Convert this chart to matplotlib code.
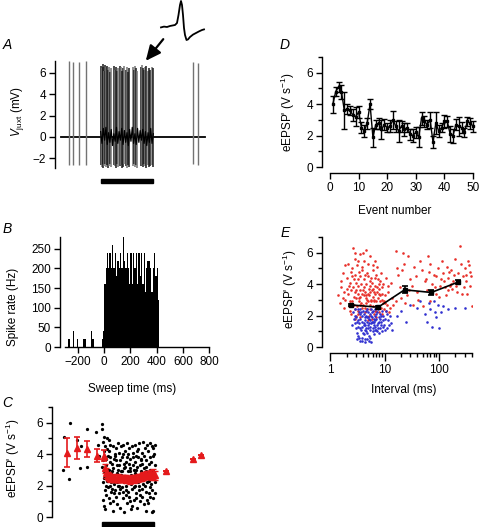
"""Juxtacellular burst figure: trace, PSTH, eEPSP' vs time, event number and interval"""

import numpy as np
import matplotlib.pyplot as plt
from matplotlib.patches import FancyArrowPatch, Rectangle
from matplotlib.ticker import FixedLocator, NullFormatter

plt.rcParams['font.family'] = ['Liberation Sans', 'DejaVu Sans']
plt.rcParams['mathtext.fontset'] = 'custom'
plt.rcParams['mathtext.rm'] = 'Liberation Sans'
plt.rcParams['mathtext.it'] = 'Liberation Sans:italic'
plt.rcParams['font.size'] = 8.5
plt.rcParams['axes.linewidth'] = 1.0

# ---------------- data ----------------
stim_on, stim_off = 0, 400  # ms, stimulus bar

# A: juxtacellular trace (ms, mV)
base_t = [-300, 790]
base_v = [0.0, 0.0]
single_t = [-241, -213, -165, -112, 702, 742]
single_pk = [7.1, 7.0, 7.0, 7.1, 7.0, 6.9]
single_tr = [-2.6, -2.6, -2.6, -2.6, -2.5, -2.6]
burst_t = [2, 8, 14, 21, 28, 34, 41, 50, 57, 64, 72, 80, 99, 106, 113, 121, 128,
           150, 158, 165, 173, 181, 190, 198, 206, 214, 246, 254, 262, 270, 278,
           303, 311, 319, 328, 337, 346, 356, 366, 377, 388, 398]
burst_pk = [6.6, 6.4, 6.8, 6.5, 6.2, 6.7, 6.5, 6.6, 6.3, 6.5, 6.1, 6.4, 6.6, 6.3,
            6.5, 6.2, 6.4, 6.6, 6.5, 6.2, 6.4, 6.6, 6.3, 6.5, 6.1, 6.4, 6.5, 6.3,
            6.6, 6.4, 6.2, 6.5, 6.7, 6.4, 6.3, 6.5, 6.6, 6.2, 6.4, 6.3, 6.5, 6.4]
burst_tr = [-2.6, -2.8, -2.5, -2.9, -2.7, -2.5, -2.8, -2.6, -3.0, -2.7, -2.5, -2.8,
            -2.6, -2.7, -2.9, -2.5, -2.8, -2.7, -2.6, -3.0, -2.8, -2.5, -2.7, -2.9,
            -2.6, -2.8, -2.7, -2.5, -2.8, -2.6, -2.9, -2.7, -2.6, -2.8, -2.5, -2.7,
            -2.9, -2.6, -2.8, -2.7, -2.6, -2.8]
burst_gray = ['0.1', '0.45', '0.1', '0.1', '0.45', '0.1', '0.45', '0.1', '0.1', '0.45',
              '0.1', '0.45', '0.1', '0.45', '0.1', '0.1', '0.45', '0.1', '0.45', '0.1',
              '0.1', '0.45', '0.1', '0.45', '0.1', '0.1', '0.45', '0.1', '0.45', '0.1',
              '0.45', '0.1', '0.45', '0.1', '0.1', '0.45', '0.1', '0.45', '0.1', '0.1',
              '0.45', '0.1']
burst_noise_v = [0.5, -0.6, 0.8, -0.3, 0.9, -0.7, 0.4, -0.5, 0.7, -0.8, 0.3, -0.4,
                 0.9, -0.6, 0.5, -0.3, 0.8, -0.7, 0.6, -0.5, 0.4, -0.8, 0.7, -0.4,
                 0.9, -0.6, 0.3, -0.7, 0.8, -0.5, 0.6, -0.3, 0.7, -0.6, 0.5, -0.8,
                 0.4, -0.5, 0.8, -0.6, 0.3]

# spike waveform inset (ms, mV)
wave_t = [0.0, 0.3, 0.6, 0.9, 1.2, 1.4, 1.6, 1.75, 1.9, 2.0, 2.1, 2.2, 2.3, 2.4,
          2.55, 2.7, 2.9, 3.2, 3.5, 3.8, 4.1, 4.3]
wave_v = [-0.1, 0.1, 0.0, 0.25, 0.4, 0.5, 1.0, 3.0, 5.5, 6.5, 5.5, 3.0, -0.25, -2.0,
          -3.25, -3.1, -2.5, -1.9, -1.5, -1.1, -0.75, -0.6]

# B: spike rate histogram (10 ms bins)
bin_width = 10
pre_bins = [-280, -270, -240, -210, -160, -150, -100, -90, -20, -10]
pre_rate = [20, 20, 40, 20, 20, 20, 40, 20, 20, 40]
burst_rate = [160, 200, 240, 200, 240, 200, 260, 200, 240, 180, 220, 200, 240, 200,
              280, 220, 200, 240, 200, 160, 240, 160, 240, 200, 240, 160, 240, 180,
              240, 160, 240, 140, 200, 220, 220, 200, 140, 200, 240, 180, 200, 120]

# C: single eEPSP' values vs sweep time (ms, V/s)
c_dots = [(-294, 3.0), (-286, 5.1), (-248, 2.4), (-242, 6.0), (-187, 4.9), (-166, 3.1),
          (-158, 4.5), (-110, 5.6), (-110, 3.2), (-40, 5.4), (-30, 4.6), (-20, 3.9),
          (2, 5.9), (5, 5.6), (8, 4.8), (12, 3.6), (15, 2.9), (18, 4.2), (22, 1.7), (3, 3.2),
          (10, 2.2), (20, 5.1), (7, 1.1), (24, 3.8), (14, 0.7), (17, 2.5),
          (27, 4.5), (30, 2.0), (33, 3.3), (36, 1.4), (39, 5.0), (42, 2.7), (45, 3.9),
          (48, 1.9), (29, 0.5), (38, 2.3), (44, 4.3), (47, 3.0), (31, 3.7),
          (52, 2.4), (55, 4.2), (58, 1.2), (61, 3.5), (64, 2.0), (67, 4.6), (70, 2.8),
          (73, 1.6), (54, 3.0), (60, 0.9), (66, 3.8), (72, 2.2), (57, 4.9),
          (77, 3.4), (80, 1.8), (83, 4.5), (86, 2.6), (89, 1.0), (92, 3.7), (95, 2.1),
          (98, 4.0), (79, 2.9), (85, 0.4), (90, 3.1), (96, 1.5),
          (102, 2.5), (105, 3.9), (108, 1.3), (111, 4.4), (114, 2.8), (117, 0.8),
          (120, 3.3), (123, 2.0), (104, 1.7), (110, 3.6), (116, 2.2), (122, 4.7),
          (127, 3.0), (130, 1.5), (133, 4.1), (136, 2.3), (139, 3.6), (142, 0.6),
          (145, 2.7), (148, 4.5), (129, 2.0), (135, 3.3), (141, 1.8), (147, 2.9),
          (152, 1.9), (155, 3.8), (158, 2.5), (161, 4.6), (164, 1.2), (167, 3.1),
          (170, 2.2), (173, 0.3), (154, 2.9), (160, 1.6), (166, 4.0), (172, 3.4),
          (177, 2.6), (180, 4.2), (183, 1.4), (186, 3.5), (189, 2.0), (192, 4.7),
          (195, 0.9), (198, 2.9), (179, 3.2), (185, 1.7), (191, 2.5), (197, 3.8),
          (202, 1.6), (205, 3.4), (208, 2.4), (211, 4.4), (214, 1.0), (217, 2.9),
          (220, 3.7), (223, 2.1), (204, 4.0), (210, 1.3), (216, 3.1), (222, 0.5),
          (227, 2.7), (230, 4.5), (233, 1.8), (236, 3.3), (239, 2.3), (242, 4.1),
          (245, 1.1), (248, 3.0), (229, 0.7), (235, 2.5), (241, 3.8), (247, 1.9),
          (252, 3.5), (255, 2.0), (258, 4.6), (261, 1.5), (264, 3.0), (267, 2.4),
          (270, 4.2), (273, 0.6), (254, 2.8), (260, 3.9), (266, 1.2), (272, 3.2),
          (277, 2.2), (280, 3.8), (283, 1.7), (286, 4.7), (289, 2.6), (292, 3.3),
          (295, 1.0), (298, 2.9), (279, 4.3), (285, 2.0), (291, 1.4), (297, 3.6),
          (302, 2.5), (305, 4.1), (308, 1.3), (311, 3.4), (314, 2.1), (317, 4.8),
          (320, 2.8), (323, 0.8), (304, 3.7), (310, 1.8), (316, 2.4), (322, 3.1),
          (327, 3.9), (330, 2.0), (333, 4.4), (336, 1.6), (339, 2.9), (342, 3.6),
          (345, 1.1), (348, 4.6), (329, 2.6), (335, 3.2), (341, 0.4), (347, 2.2),
          (352, 2.7), (355, 4.2), (358, 1.5), (361, 3.4), (364, 2.3), (367, 4.7),
          (370, 1.9), (373, 3.0), (354, 0.9), (360, 2.5), (366, 3.8), (372, 1.3),
          (377, 3.5), (380, 2.1), (383, 4.5), (386, 1.7), (389, 2.9), (392, 3.9),
          (395, 1.2), (398, 2.6), (401, 4.0), (404, 1.5), (407, 3.3), (410, 2.2),
          (384, 0.3), (396, 0.4), (405, 4.6), (390, 4.4)]

c_mean_t = [-268, -191, -110, -34, 18, 495, 696, 757]
c_mean_v = [4.1, 4.38, 4.32, 3.89, 3.89, 2.95, 3.72, 3.96]
c_mean_e = [0.9, 0.7, 0.5, 0.42, 0.35, 0.0, 0.0, 0.0]
c_burst_t = [25, 35, 45, 55, 65, 75, 85, 95, 105, 115, 125, 135, 145, 155, 165, 175,
             185, 195, 205, 215, 225, 235, 245, 255, 265, 275, 285, 295, 305, 315,
             325, 335, 345, 355, 365, 375, 385, 395, 405]
c_burst_v = [3.1, 2.8, 2.6, 2.55, 2.5, 2.5, 2.45, 2.5, 2.5, 2.45, 2.5, 2.45, 2.4,
             2.45, 2.5, 2.45, 2.4, 2.4, 2.35, 2.35, 2.4, 2.45, 2.4, 2.5, 2.45, 2.5,
             2.55, 2.5, 2.55, 2.6, 2.6, 2.65, 2.6, 2.7, 2.65, 2.7, 2.6, 2.75, 2.65]
c_burst_e = [0.3, 0.3, 0.25, 0.25, 0.25, 0.2, 0.2, 0.25, 0.2, 0.2, 0.25, 0.2, 0.2,
             0.25, 0.2, 0.2, 0.25, 0.2, 0.2, 0.25, 0.2, 0.2, 0.25, 0.2, 0.2, 0.25,
             0.2, 0.2, 0.25, 0.25, 0.2, 0.25, 0.2, 0.25, 0.25, 0.3, 0.25, 0.3, 0.3]

# D: eEPSP' vs event number
event_n = list(range(1, 51))
event_v = [4.0, 4.8, 5.1, 4.8, 3.6, 3.7, 3.6, 3.3, 3.2, 3.5, 2.5, 2.3, 2.8, 4.0, 1.9,
           2.7, 2.8, 2.4, 2.7, 2.5, 2.6, 3.0, 2.6, 2.3, 2.6, 2.4, 2.5, 2.1, 2.0, 2.2,
           1.9, 3.1, 2.9, 2.7, 3.0, 1.6, 2.8, 2.3, 2.5, 2.9, 2.9, 2.1, 2.0, 2.7, 2.6,
           2.5, 2.2, 2.9, 2.8, 2.6]
event_e = [0.55, 0.3, 0.3, 0.45, 1.2, 0.3, 0.3, 0.4, 0.6, 0.4, 0.35, 0.4, 0.35, 0.3,
           0.6, 0.3, 0.35, 0.6, 0.35, 0.3, 0.4, 0.55, 0.35, 0.7, 0.35, 0.4, 0.3, 0.35,
           0.4, 0.35, 0.65, 0.4, 0.35, 0.3, 0.5, 0.4, 0.7, 0.4, 0.3, 0.4, 0.35, 0.5,
           0.45, 0.35, 0.6, 0.35, 0.3, 0.3, 0.35, 0.35]

# E: eEPSP' vs preceding interval (ms, V/s); red = large, blue = small
red_pts = [(2.1, 3.4), (2.3, 4.1), (2.5, 2.9), (2.6, 3.8), (2.8, 4.6), (3.0, 3.1), (3.1, 2.6),
           (3.3, 4.3), (3.5, 3.6), (3.7, 2.8), (3.9, 4.9), (4.1, 3.3), (4.3, 2.5), (4.6, 4.0),
           (4.8, 3.0), (5.1, 3.7), (5.4, 2.7), (5.7, 4.4), (6.0, 3.2), (6.4, 2.9), (6.8, 3.9),
           (7.2, 3.5), (7.7, 2.6), (8.2, 4.2), (8.8, 3.0), (9.4, 2.8),
           (2.2, 2.6), (2.4, 3.6), (2.7, 3.2), (2.9, 2.4), (3.2, 3.9), (3.4, 2.9), (3.6, 4.5),
           (3.8, 3.4), (4.0, 2.7), (4.2, 3.8), (4.5, 3.1), (4.7, 4.7), (5.0, 2.9), (5.3, 3.5),
           (5.6, 3.0), (5.9, 4.1), (6.2, 2.6), (6.6, 3.4), (7.0, 4.6), (7.5, 3.1), (8.0, 3.7),
           (8.5, 2.5), (9.1, 3.4), (9.8, 2.9),
           (1.9, 3.0), (2.0, 4.4), (2.3, 2.3), (2.5, 5.0), (2.7, 4.3), (3.0, 3.6), (3.2, 2.3),
           (3.4, 4.8), (3.6, 3.2), (3.9, 2.5), (4.1, 4.3), (4.4, 3.5), (4.7, 2.4), (5.0, 4.5),
           (5.2, 3.3), (5.5, 2.4), (5.8, 3.6), (6.1, 4.9), (6.5, 3.0), (6.9, 2.3), (7.3, 3.8),
           (7.8, 4.0), (8.3, 2.9), (8.9, 3.8), (9.6, 2.4),
           (2.1, 5.3), (2.4, 4.8), (2.8, 5.6), (3.1, 5.2), (3.5, 5.9), (3.8, 5.1), (4.2, 5.5),
           (4.6, 6.2), (5.0, 5.3), (5.5, 5.8), (6.0, 5.2), (6.7, 5.5), (2.6, 6.3), (4.0, 6.0),
           (7.4, 5.1), (8.6, 4.7), (3.3, 5.5), (2.9, 6.0),
           (1.6, 3.8), (1.5, 2.8), (1.7, 4.7), (1.8, 3.5), (1.6, 4.2), (1.8, 2.5), (1.4, 3.3),
           (1.9, 5.2),
           (2.4, 2.1), (3.0, 2.0), (3.6, 1.9), (4.4, 2.2), (5.2, 2.0), (6.3, 2.1), (7.1, 1.9),
           (8.0, 2.2), (2.8, 1.8), (4.9, 1.7), (5.8, 1.8), (3.3, 2.1), (6.7, 2.3), (9.0, 2.1),
           (10.5, 2.3),
           (10.2, 3.3), (11.0, 2.7), (11.8, 3.9), (12.5, 2.5), (13.5, 3.1), (10.8, 4.4),
           (14.5, 2.7), (12.0, 2.2), (11.5, 3.5), (10.4, 2.8), (13.0, 4.1),
           (2.2, 3.9), (2.5, 4.5), (2.7, 2.7), (3.0, 4.1), (3.2, 3.4), (3.5, 2.7), (3.7, 4.0),
           (4.0, 3.6), (4.3, 4.6), (4.5, 2.8), (4.9, 3.4), (5.3, 4.2), (5.7, 2.9), (6.2, 3.7),
           (6.6, 4.4), (7.1, 2.9), (7.6, 4.3), (8.4, 3.3), (9.2, 4.0), (2.0, 3.7), (2.9, 3.5),
           (3.4, 3.1), (4.6, 3.3), (5.5, 3.9), (6.4, 3.5), (7.9, 3.4), (1.7, 3.1), (2.3, 2.9),
           (17, 5.0), (20, 3.1), (22, 6.0), (27, 5.8), (30, 4.3), (35, 5.1), (40, 3.5),
           (18, 4.6), (24, 2.8), (32, 3.9), (45, 5.5), (50, 2.6), (55, 4.2), (60, 3.6),
           (65, 4.8), (70, 5.3), (75, 4.0), (85, 3.8), (90, 4.5), (95, 5.0), (100, 3.2),
           (110, 4.3), (120, 4.7), (130, 3.8), (140, 5.1), (150, 4.4), (160, 3.9),
           (170, 4.9), (180, 4.2), (200, 5.6), (210, 3.9), (230, 4.7), (250, 6.4),
           (260, 5.3), (280, 4.5), (300, 5.0), (320, 4.2), (350, 5.5), (380, 4.8),
           (400, 2.6), (370, 3.9), (330, 3.4), (290, 3.8), (220, 3.5), (190, 4.6),
           (165, 4.0), (145, 3.6), (125, 4.2), (105, 3.9), (80, 4.6), (62, 5.8), (48, 4.9),
           (38, 4.5), (28, 3.6), (21, 4.9), (16, 2.9), (19, 3.8), (26, 3.3), (33, 2.7),
           (42, 3.0), (68, 2.9), (88, 3.4), (115, 5.5), (135, 3.3), (155, 4.8), (175, 3.7),
           (240, 4.1), (270, 3.4), (310, 4.6), (360, 5.2), (390, 4.5), (16, 6.1), (23, 5.3),
           (58, 4.3)]
blue_pts = [(2.6, 2.2), (2.8, 1.5), (3.0, 1.9), (3.1, 0.9), (3.2, 2.4), (3.3, 1.3), (3.4, 0.6),
            (3.5, 1.8), (3.6, 2.1), (3.7, 1.1), (3.8, 0.4), (3.9, 1.6), (4.0, 2.3), (4.1, 0.8),
            (4.2, 1.4), (4.3, 1.9), (4.4, 0.5), (4.5, 1.2), (4.6, 2.0), (4.7, 1.6), (4.8, 0.9),
            (4.9, 2.2), (5.0, 1.4), (5.1, 0.7), (5.2, 1.8), (5.4, 1.1), (5.5, 2.1), (5.6, 1.5),
            (5.7, 0.3), (5.8, 1.9), (6.0, 1.2), (6.1, 2.3), (6.3, 1.6), (6.4, 0.8), (6.6, 2.0),
            (6.8, 1.3), (7.0, 1.8), (7.2, 1.0), (7.4, 2.2), (7.6, 1.5), (7.9, 1.9), (8.1, 1.2),
            (8.4, 2.1), (8.7, 1.6), (9.0, 1.0), (9.3, 2.0), (9.7, 1.4), (10.1, 1.8),
            (10.6, 2.3), (11.2, 1.2), (11.8, 1.7), (12.5, 2.0), (13.2, 1.5), (14.0, 1.1),
            (2.7, 1.8), (2.9, 2.4), (3.0, 1.2), (3.2, 0.7), (3.4, 1.5), (3.6, 2.4), (3.8, 1.3),
            (4.0, 0.9), (4.2, 2.1), (4.4, 1.7), (4.6, 1.0), (4.8, 2.4), (5.0, 1.9), (5.3, 1.3),
            (5.5, 0.6), (5.7, 2.4), (5.9, 1.6), (6.2, 1.0), (6.5, 1.8), (6.7, 2.4), (6.9, 1.1),
            (7.3, 1.4), (7.7, 2.4), (8.0, 0.9), (8.5, 1.4), (8.9, 2.3), (9.5, 1.7),
            (10.3, 1.1), (11.0, 2.1), (12.0, 1.4),
            (2.5, 1.4), (2.8, 2.0), (3.3, 1.7), (3.7, 2.2), (4.1, 1.5), (4.5, 2.3), (4.9, 1.2),
            (5.4, 1.7), (5.8, 2.2), (6.3, 1.4), (6.8, 1.7), (7.5, 1.2), (8.2, 1.8), (9.2, 1.3),
            (3.5, 0.4), (4.3, 0.3), (3.9, 0.6), (4.7, 0.5), (5.2, 0.4), (3.1, 0.5),
            (3.1, 1.6), (3.5, 1.2), (3.9, 2.0), (4.3, 1.1), (4.7, 1.9), (5.1, 1.5), (5.6, 2.0),
            (6.1, 1.6), (6.6, 1.1), (7.1, 2.1), (7.8, 1.6), (8.6, 2.0), (3.4, 2.2), (4.4, 1.4),
            (20, 2.3), (25, 1.6), (30, 2.7), (40, 2.5), (55, 2.1), (60, 1.6), (65, 2.8),
            (70, 2.4), (75, 1.3), (80, 2.9), (85, 2.2), (90, 1.9), (95, 2.7), (100, 1.2),
            (110, 2.2), (120, 2.6), (150, 2.4), (200, 2.5), (300, 2.5), (17, 2.0), (45, 2.9)]
bin_x = [2.4, 7.6, 23.4, 72.6, 226]
bin_y = [2.68, 2.53, 3.64, 3.47, 4.13]
bin_e = [0.08, 0.08, 0.22, 0.13, 0.12]

# ---------------- layout ----------------
W, H = 480, 527
fig = plt.figure(figsize=(W / 100, H / 100), dpi=100)


def ax_px(left, top, right, bottom):
    return fig.add_axes([left / W, 1 - bottom / H, (right - left) / W, (bottom - top) / H])


def ftext(x, y, s, **kw):
    fig.text(x / W, 1 - y / H, s, **kw)


def style(ax, left=True, bottom=True):
    for side in ['top', 'right']:
        ax.spines[side].set_visible(False)
    ax.spines['left'].set_visible(left)
    ax.spines['bottom'].set_visible(bottom)
    ax.tick_params(which='major', length=4.5, width=1.0, pad=2, labelsize=8.5)
    ax.tick_params(which='minor', length=3, width=1.0)
    if not bottom:
        ax.tick_params(axis='x', which='both', bottom=False, labelbottom=False)
    ax.patch.set_alpha(0)


ylab_epsp = "eEPSP' (V s$^{-1}$)"

# ---- A ----
axA = ax_px(55, 61, 209, 168)
axA.set_xlim(-347, 823)
axA.set_ylim(-2.9, 7.1)
style(axA, bottom=False)
axA.set_yticks([-2, 0, 2, 4, 6])
axA.plot(base_t, base_v, color='k', lw=1.3)
axA.vlines(single_t, single_tr, single_pk, color='0.45', lw=1.0)
axA.vlines(burst_t, burst_tr, burst_pk, colors=burst_gray, lw=1.1)
axA.plot(np.arange(stim_on, stim_off + 1, 10), burst_noise_v, color='k', lw=0.9)
axA.add_patch(Rectangle((stim_on, -4.3), stim_off - stim_on, 0.4, color='k', clip_on=False))
ftext(3, 49, 'A', fontsize=10, style='italic')
ftext(17, 112, r'$V_{\rm juxt}$ (mV)', rotation=90, ha='center', va='center')

axIn = ax_px(158, 0, 207, 42)
axIn.set_xlim(-0.3, 4.6)
axIn.set_ylim(-3.75, 6.75)
axIn.axis('off')
axIn.plot(wave_t, wave_v, color='k', lw=1.3)
fig.patches.append(FancyArrowPatch((165 / W, 1 - 37 / H), (144 / W, 1 - 63 / H),
                                   transform=fig.transFigure, color='k', lw=1.6,
                                   arrowstyle='-|>,head_length=1.3,head_width=0.6',
                                   mutation_scale=7))

# ---- B ----
axB = ax_px(60, 237, 209, 347)
axB.set_xlim(-338, 800)
axB.set_ylim(0, 280)
style(axB)
axB.spines['bottom'].set_bounds(-300, 800)
axB.set_xticks([-200, 0, 200, 400, 600, 800])
axB.set_yticks([0, 50, 100, 150, 200, 250])
# one contiguous histogram so that neighbouring bins do not leave white gaps
edges = np.arange(-300, 420 + bin_width, bin_width)
rates = np.zeros(len(edges) - 1)
for b, r in zip(pre_bins, pre_rate):
    rates[(b + 300) // bin_width] = r
for i, r in enumerate(burst_rate):
    rates[(stim_on + 300) // bin_width + i] = r
axB.stairs(rates, edges, fill=True, color='k', lw=0)
ftext(3, 233, 'B', fontsize=10, style='italic')
ftext(13, 307, 'Spike rate (Hz)', rotation=90, ha='center', va='center')
ftext(132, 389, 'Sweep time (ms)', ha='center', va='center')

# ---- C ----
axC = ax_px(52, 407, 210, 517)
axC.set_xlim(-380, 828)
axC.set_ylim(0, 7)
style(axC, bottom=False)
axC.set_yticks([0, 2, 4, 6])
axC.yaxis.set_minor_locator(FixedLocator([1, 3, 5, 7]))
c_t, c_v = zip(*c_dots)
axC.scatter(c_t, c_v, s=5.5, color='k', lw=0, zorder=2)
axC.errorbar(c_burst_t, c_burst_v, yerr=c_burst_e, fmt='^', color='#e41a1c', ms=5,
             capsize=2, elinewidth=1.0, capthick=1.0, zorder=3)
axC.errorbar(c_mean_t, c_mean_v, yerr=c_mean_e, fmt='^', color='#e41a1c', ms=5,
             capsize=2.5, elinewidth=1.2, capthick=1.2, zorder=3)
axC.add_patch(Rectangle((stim_on, -0.65), stim_off - stim_on, 0.35, color='k', clip_on=False))
ftext(2, 407, 'C', fontsize=10, style='italic')
ftext(13, 458, ylab_epsp, rotation=90, ha='center', va='center')

# ---- D ----
axD = ax_px(322, 57, 473, 167)
axD.set_xlim(-2.8, 50)
axD.set_ylim(0, 7)
style(axD)
axD.spines['bottom'].set_position(('outward', 4.5))
axD.spines['bottom'].set_bounds(0, 50)
axD.set_xticks([0, 10, 20, 30, 40, 50])
axD.set_yticks([0, 2, 4, 6])
axD.yaxis.set_minor_locator(FixedLocator([1, 3, 5, 7]))
axD.errorbar(event_n, event_v, yerr=event_e, fmt='-s', color='k', ms=1.6, lw=1.0,
             capsize=2.2, elinewidth=1.0, capthick=1.0, clip_on=False)
ftext(280, 49, 'D', fontsize=10, style='italic')
ftext(288, 112, ylab_epsp, rotation=90, ha='center', va='center')
ftext(395, 211, 'Event number', ha='center', va='center')

# ---- E ----
axE = ax_px(322, 237, 472, 347)
axE.set_xscale('log')
axE.set_xlim(0.704, 408)
axE.set_ylim(0, 7)
style(axE)
axE.spines['bottom'].set_position(('outward', 4.5))
axE.spines['bottom'].set_bounds(1, 400)
axE.xaxis.set_major_locator(FixedLocator([1, 10, 100]))
axE.set_xticklabels(['1', '10', '100'])
axE.xaxis.set_minor_locator(FixedLocator([2, 3, 4, 5, 6, 7, 8, 9, 20, 30, 40, 50, 60,
                                          70, 80, 90, 200, 300, 400]))
axE.xaxis.set_minor_formatter(NullFormatter())
axE.tick_params(axis='x', which='major', length=6)
axE.set_yticks([0, 2, 4, 6])
axE.yaxis.set_minor_locator(FixedLocator([1, 3, 5, 7]))
red_x, red_y = zip(*red_pts)
blue_x, blue_y = zip(*blue_pts)
axE.scatter(red_x, red_y, s=3.5, color='#e8302a', lw=0)
axE.scatter(blue_x, blue_y, s=3.5, color='#3030d0', lw=0)
axE.errorbar(bin_x, bin_y, yerr=bin_e, fmt='-s', color='k', ms=3, lw=1.2,
             capsize=2.2, elinewidth=1.2, capthick=1.2)
ftext(281, 237, 'E', fontsize=10, style='italic')
ftext(290, 289, ylab_epsp, rotation=90, ha='center', va='center')
ftext(404, 390, 'Interval (ms)', ha='center', va='center')

fig.savefig('out.png', dpi=100)
